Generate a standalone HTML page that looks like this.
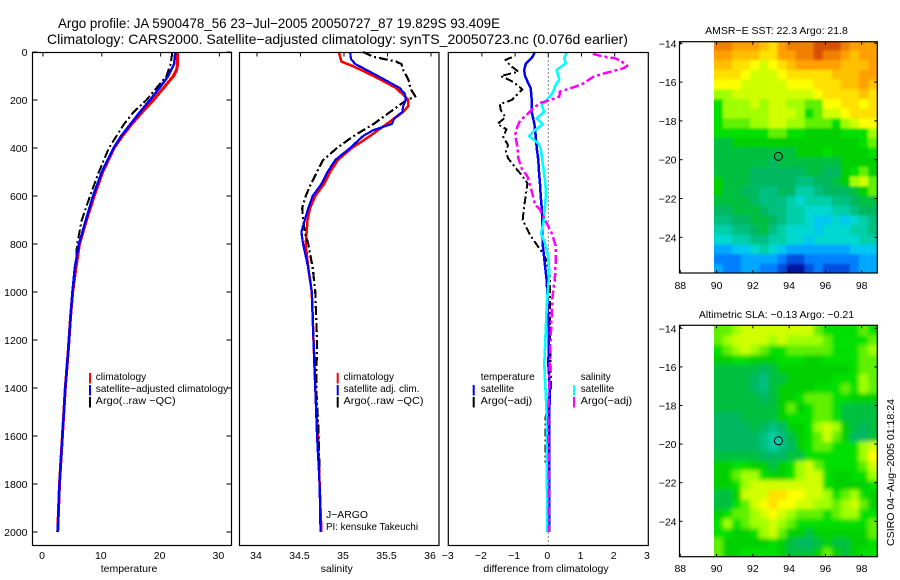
<!DOCTYPE html>
<html>
<head>
<meta charset="utf-8">
<title>Argo profile</title>
<style>
html,body{margin:0;padding:0;background:#fff;}
svg{display:block;}
text{font-family:"Liberation Sans",sans-serif;font-size:10.5px;fill:#000;}
.t{font-size:14px;}
</style>
</head>
<body>
<svg id="chart" width="900" height="580" viewBox="0 0 900 580" xmlns="http://www.w3.org/2000/svg">
<rect x="0" y="0" width="900" height="580" fill="#fff"/>
<text class="t" x="58" y="28" textLength="442" lengthAdjust="spacingAndGlyphs">Argo profile: JA 5900478_56 23−Jul−2005 20050727_87 19.829S 93.409E</text>
<text class="t" x="47" y="44" textLength="581" lengthAdjust="spacingAndGlyphs">Climatology: CARS2000. Satellite−adjusted climatology: synTS_20050723.nc (0.076d earlier)</text>
<text x="0" y="0" transform="translate(894,546) rotate(-90)" textLength="147" lengthAdjust="spacingAndGlyphs" font-size="11">CSIRO 04−Aug−2005 01:18:24</text>
<text x="326" y="518" textLength="42" lengthAdjust="spacingAndGlyphs">J−ARGO</text>
<text x="326" y="530" textLength="92" lengthAdjust="spacingAndGlyphs">PI: kensuke Takeuchi</text>
</svg>
<script>
// ---------- chart data ----------
const depthTicks = [0,200,400,600,800,1000,1200,1400,1600,1800,2000];
const tempTicks = [0,10,20,30];
const salTicks = [34,34.5,35,35.5,36];
const diffTicks = [-3,-2,-1,0,1,2,3];
const lonTicks = [88,90,92,94,96,98];
const latTicks = [-14,-16,-18,-20,-22,-24];

const tempClimDepths = [0,50,75,100,150,200,250,300,350,400,500,600,700,800,900,1000,1100,1242,1400,1600,1800,2000];
const tempClim = [22.9,22.9,22.7,22.2,20.5,18.8,16.9,15.1,13.5,12.1,10.15,8.7,7.4,6.2,5.6,5.05,4.7,4.3,3.8,3.3,2.8,2.5];
const tempSatDepths = [0,50,100,150,200,250,300,350,400,500,600,700,800,900,1000,1100,1242,1400,1600,1800,2000];
const tempSat = [22.5,22.3,21.3,19.8,18.2,16.5,14.9,13.3,12,10,8.5,7.3,6.1,5.4,5,4.7,4.3,3.8,3.3,2.8,2.5];
const tempArgoDepths = [0,50,100,150,200,250,300,350,400,500,600,700,800,900,1000,1100,1242,1400,1600,1800,2000];
const tempArgo = [22,21.7,21,19.3,17.6,15.4,13.8,12.5,11.2,9.5,8,6.6,5.8,5.5,5.05,4.75,4.3,3.75,3.3,2.8,2.45];

const salClimDepths = [0,40,60,100,150,200,225,250,300,350,400,450,500,550,600,650,700,750,800,900,1000,1200,1400,1600,1800,2000];
const salClim = [34.94,34.97,35.11,35.34,35.6,35.74,35.74,35.68,35.49,35.3,35.09,34.93,34.84,34.77,34.67,34.61,34.58,34.57,34.56,34.59,34.63,34.65,34.67,34.7,34.72,34.74];
const salSatDepths = [0,30,50,100,150,175,200,225,250,275,300,325,350,400,450,500,550,600,650,700,750,800,900,1000,1200,1400,1600,1800,2000];
const salSat = [35.07,35.08,35.13,35.39,35.64,35.7,35.71,35.68,35.67,35.58,35.55,35.34,35.22,35.07,34.9,34.81,34.74,34.64,34.59,34.55,34.51,34.53,34.59,34.63,34.65,34.67,34.69,34.72,34.73];
const salArgoDepths = [0,20,40,50,75,100,125,150,185,200,250,300,350,400,450,500,550,600,650,700,750,800,900,1000,1200,1400,1600,1800];
const salArgo = [35.22,35.34,35.6,35.66,35.68,35.72,35.75,35.76,35.82,35.72,35.53,35.34,35.11,34.92,34.76,34.69,34.62,34.56,34.52,34.53,34.55,34.59,34.64,34.67,34.69,34.68,34.71,34.72];

const diffTempSatDepths = [0,25,50,75,100,125,150,200,250,300,350,400,450,500,550,600,650,700,750,800,850,900,950,1000,1200,1300,1400,1500,1700,2000];
const diffTempSat = [-0.4,-0.5,-0.68,-0.73,-0.7,-0.62,-0.53,-0.5,-0.5,-0.42,-0.38,-0.35,-0.3,-0.28,-0.25,-0.23,-0.2,-0.18,-0.18,-0.17,-0.13,-0.09,-0.05,-0.03,0.02,0,0.05,0.03,0.03,0.03];
const diffTempArgoDepths = [22,33,54,82,100,124,156,200,217,242,272,300,322,353,388,415,443,489,513,547,589,644,700,749,783,832,867,936,1006,1200,1400,1530,1710];
const diffTempArgo = [-1.1,-1.29,-1.16,-0.9,-1.43,-1.06,-0.78,-1.1,-1.46,-1.43,-1.29,-1.53,-1.26,-1.36,-1.21,-1.28,-1.21,-0.95,-0.8,-0.63,-0.67,-0.73,-0.77,-0.6,-0.45,-0.2,-0.05,0.05,0.05,0.05,0.08,-0.09,-0.09];
const diffSalSatDepths = [3,26,47,75,114,136,170,192,221,249,276,301,325,350,381,401,464,533,589,644,714,756,797,853,922,1006,1076,1300,1500,2000];
const diffSalSat = [0.55,0.48,0.53,0.25,0.33,0.23,0.13,0,-0.2,-0.13,-0.35,-0.17,-0.4,-0.58,-0.3,-0.23,-0.17,-0.1,-0.07,-0.1,-0.15,-0.22,-0.1,0,0.03,-0.02,-0.05,-0.12,-0.05,-0.03];
const diffSalArgoDepths = [8,19,26,40,57,68,79,90,103,131,147,165,186,200,213,234,262,286,311,346,394,444,486,518,580,636,657,698,754,806,875,944,1014,1200,1500,2000];
const diffSalArgo = [1.34,1.66,2.01,2.21,2.38,2.26,1.96,1.66,1.36,1.06,0.76,0.35,0.33,0.05,-0.25,-0.45,-0.65,-0.85,-0.93,-1,-0.93,-0.9,-0.8,-0.63,-0.5,-0.4,-0.25,-0.1,0.1,0.22,0.22,0.2,0.13,0.07,0,0.02];

const sstLevels = [
[19,19,18,18,18,17,16,18,19,19,19,20,20,20,19,18,18,18],
[18,18,17,17,17,16,16,18,18,19,19,20,19,19,18,17,18,18],
[17,17,16,16,15,14,15,16,17,18,18,18,18,18,17,17,17,18],
[16,16,16,15,14,14,14,15,16,16,16,16,16,17,17,17,18,18],
[15,15,15,14,14,14,14,14,15,15,15,16,16,16,17,17,18,17],
[13,13,14,14,14,14,14,14,14,14,14,15,16,16,16,16,17,16],
[11,13,13,13,14,13,14,14,13,13,12,12,15,15,16,16,15,16],
[11,13,13,13,13,13,14,14,14,13,11,12,14,14,15,16,16,16],
[11,12,12,12,13,13,14,14,13,13,12,12,12,11,13,14,15,15],
[11,11,11,11,11,11,12,12,11,11,10,10,10,10,11,11,11,13],
[9,9,10,10,10,10,10,10,10,10,10,10,10,10,10,10,11,12],
[9,9,9,9,9,9,9,9,9,10,10,10,11,10,10,10,10,11],
[9,9,9,9,9,9,8,9,9,9,9,9,9,9,10,10,10,10],
[9,9,9,9,8,8,8,8,8,8,9,9,8,8,10,11,12,10],
[10,9,9,9,8,8,8,8,8,7,7,8,8,9,10,13,14,12],
[10,9,9,8,8,7,7,8,8,6,6,7,8,8,8,9,10,12],
[9,9,9,9,8,7,7,7,6,5,6,6,6,7,7,8,9,9],
[8,8,9,9,9,8,7,7,6,6,5,5,5,6,6,7,8,8],
[7,7,8,8,9,9,8,7,6,6,5,4,4,5,4,5,6,7],
[6,6,7,7,8,9,7,6,5,5,5,4,5,5,5,6,6,7],
[5,5,6,6,7,7,6,6,5,5,4,5,5,5,5,5,6,6],
[3,3,4,4,5,6,5,4,3,3,3,3,3,3,3,4,4,4],
[2,2,2,3,3,3,3,2,1,1,2,2,2,2,2,2,3,3],
[3,2,2,3,3,2,2,1,0,0,1,2,1,1,1,2,3,3]
];
const slaLevels = [
[12,12,13,14,14,14,14,14,14,14,14,12,11,11,11,11,12,11],
[12,13,14,14,14,14,13,14,13,13,13,13,12,11,11,11,11,12],
[11,12,13,14,13,12,11,11,12,12,12,12,12,11,11,11,12,13],
[10,10,11,11,10,10,10,11,11,11,10,10,11,11,11,11,12,12],
[9,9,9,9,9,8,9,10,10,10,10,10,10,10,10,11,12,12],
[9,9,9,9,8,7,9,9,10,10,10,10,10,11,11,11,13,12],
[9,9,9,9,8,7,9,10,10,10,10,11,11,11,12,11,13,12],
[9,9,9,9,9,8,9,10,10,11,12,12,12,11,11,10,10,10],
[9,9,9,9,9,9,9,10,12,10,11,12,12,11,9,9,9,9],
[8,8,8,9,9,9,9,10,11,11,11,12,12,11,9,9,9,9],
[8,8,8,8,9,8,7,8,10,10,11,13,14,13,10,9,8,9],
[8,8,8,8,8,7,6,7,9,10,11,12,14,12,10,8,8,9],
[8,8,8,8,8,7,6,7,8,10,11,12,12,11,11,11,13,14],
[9,9,9,9,9,8,8,8,9,9,11,11,11,11,11,11,13,15],
[10,10,11,11,10,10,9,10,11,13,14,12,11,11,11,11,12,14],
[10,10,12,13,13,11,10,10,11,13,14,14,11,10,10,11,11,13],
[10,10,11,13,14,14,14,14,14,14,14,14,11,10,10,10,10,11],
[9,9,10,14,14,14,16,16,15,15,14,14,13,11,12,13,11,10],
[9,9,11,12,14,15,16,15,15,14,14,13,13,12,13,14,12,10],
[10,11,12,12,13,14,15,14,13,12,12,12,11,12,13,13,11,11],
[11,13,11,12,13,13,14,13,12,11,11,11,11,11,11,11,11,12],
[11,11,10,10,11,13,14,12,10,10,9,10,10,10,10,10,10,12],
[12,10,10,10,10,10,11,10,9,8,8,9,10,9,9,10,10,11],
[12,10,10,11,11,11,11,10,9,9,9,10,12,10,9,10,11,11]
];
const floatLon = 93.409;
const floatLat = -19.829;
const sstArgoLevel = 8.5;
const slaArgoLevel = 6;

// ---------- helpers ----------
const NS = "http://www.w3.org/2000/svg";
const svg = document.getElementById("chart");
function mk(tag, attrs, name, parent){
  const el = document.createElementNS(NS, tag);
  for (const k in attrs) el.setAttribute(k, attrs[k]);
  
  
  (parent || svg).appendChild(el);
  return el;
}
function label(x, y, s, anchor, name, parent){
  const t = mk("text", {x:x, y:y, "text-anchor":anchor||"start"}, name, parent);
  t.textContent = s;
  return t;
}
function fmt(v){ return String(v).replace("-", "−"); }

const depthY = d => 52 + 0.24 * d;
const tempX = v => 43 + 5.88 * v;
const salX = v => 257 + 87 * (v - 34);
const diffX = v => 548.3 + 33.2 * v;

function series(xf, depths, vals, color, w, dash, name){
  const pts = vals.map((v, i) => xf(v).toFixed(1) + "," + depthY(depths[i]).toFixed(1)).join(" ");
  const a = {points:pts, fill:"none", stroke:color, "stroke-width":w, "stroke-linejoin":"round", "shape-rendering":"crispEdges"};
  if (dash) a["stroke-dasharray"] = dash;
  return mk("polyline", a, name);
}
function frame(x0, x1, y0, y1, name){
  mk("rect", {x:x0, y:y0, width:x1-x0, height:y1-y0, fill:"none", stroke:"#000", "stroke-width":1.2}, name);
}
function tick(x1, y1, x2, y2, name){
  mk("line", {x1:x1, y1:y1, x2:x2, y2:y2, stroke:"#000", "stroke-width":1}, name);
}
function legendRow(sx, tx, y, color, s, len, name){
  if (color) mk("rect", {x:sx-1, y:y-7, width:2, height:10.5, fill:color}, name + "-sample");
  const t = label(tx, y, s, "start", name + "-label");
  t.setAttribute("textLength", len);
  t.setAttribute("lengthAdjust", "spacingAndGlyphs");
}

// ---------- map colour scale ----------
const mapStops = [[0,24,160],[0,80,224],[0,128,255],[0,168,255],[0,200,240],[0,216,208],[0,207,168],[0,192,128],[0,184,96],[0,192,64],[0,208,0],[0,224,0],[96,240,0],[160,255,0],[208,255,0],[255,255,0],[255,224,0],[255,192,0],[255,160,0],[240,128,0],[216,80,0]];
function mapColor(v){
  const c = Math.max(0, Math.min(mapStops.length - 1, v));
  const i = Math.min(mapStops.length - 2, Math.floor(c)), f = c - i;
  const m = [0,1,2].map(k => Math.round(mapStops[i][k] + (mapStops[i+1][k] - mapStops[i][k]) * f));
  return "rgb(" + m.join(",") + ")";
}

// ---------- maps ----------
function drawMap(levels, top, bottom, lat14Y, pxPerLat, blur, title, titleY, labelY, argoLevel, prefix){
  const left = 679.5, right = 877.3, dataLeft = 714;
  const lonX = v => 680.3 + (v - 88) * 18.14;
  const latY = v => lat14Y + (-14 - v) * pxPerLat;
  const clip = mk("clipPath", {id:prefix + "-clip"}, prefix + "-clip-region");
  mk("rect", {x:dataLeft, y:top, width:right-dataLeft, height:bottom-top}, prefix + "-clip-rect", clip);
  const f = mk("filter", {id:prefix + "-smooth", filterUnits:"userSpaceOnUse", x:680, y:top-30, width:230, height:bottom-top+60}, prefix + "-smoothing");
  mk("feGaussianBlur", {stdDeviation:blur}, prefix + "-smoothing-blur", f);
  const outer = mk("g", {"clip-path":"url(#" + prefix + "-clip)"}, prefix + "-clip-group");
  const g = mk("g", {filter:"url(#" + prefix + "-smooth)"}, prefix + "-cells", outer);
  levels.forEach((row, r) => row.forEach((v, c) => {
    let x0 = lonX(89.85 + c * 0.5), y0 = latY(-13.87 - r * 0.5);
    let w = 18.14 * 0.5 + 0.3, h = pxPerLat * 0.5 + 0.3;
    if (c === 0) { x0 -= 15; w += 15; }
    if (c === row.length - 1) w += 15;
    if (r === 0) { y0 -= 15; h += 15; }
    if (r === levels.length - 1) h += 15;
    mk("rect", {x:x0.toFixed(1), y:y0.toFixed(1), width:w.toFixed(1), height:h.toFixed(1), fill:mapColor(v)}, prefix + "-cell", g);
  }));
  frame(left, right, top, bottom, prefix + "-frame");
  lonTicks.forEach(v => {
    tick(lonX(v), top, lonX(v), top + 3, prefix + "-top-tick");
    tick(lonX(v), bottom, lonX(v), bottom - 3, prefix + "-bottom-tick");
    label(lonX(v), labelY, fmt(v), "middle", prefix + "-lon-label");
  });
  latTicks.forEach(v => {
    tick(left, latY(v), left + 3, latY(v), prefix + "-left-tick");
    tick(right, latY(v), right - 3, latY(v), prefix + "-right-tick");
    label(left - 3, latY(v) + 4, fmt(v), "end", prefix + "-lat-label");
  });
  label(776.5, titleY, title, "middle", prefix + "-title");
  mk("circle", {cx:lonX(floatLon).toFixed(1), cy:latY(floatLat).toFixed(1), r:4, fill:mapColor(argoLevel), stroke:"#000", "stroke-width":1}, prefix + "-float-marker");
}
drawMap(sstLevels, 41.7, 273, 43.3, 19.4, 1.3, "AMSR−E SST: 22.3 Argo: 21.8", 34, 289, sstArgoLevel, "sst-map");
drawMap(slaLevels, 325.3, 556.7, 328.3, 19.3, 2.2, "Altimetric SLA: −0.13 Argo: −0.21", 318, 572, slaArgoLevel, "sla-map");

// ---------- profile panels ----------
const top_ = 52.5, bot_ = 545.5;
// panel 1
series(tempX, tempClimDepths, tempClim, "#ff0000", 3, null, "temperature-climatology-line");
series(tempX, tempArgoDepths, tempArgo, "#000", 2, "9 3 2 3", "temperature-argo-line");
series(tempX, tempSatDepths, tempSat, "#0000ff", 2.5, null, "temperature-satellite-line");
frame(32.5, 231.5, top_, bot_, "temperature-panel-frame");
depthTicks.forEach(d => {
  tick(32.5, depthY(d), 37.5, depthY(d), "depth-left-tick");
  tick(231.5, depthY(d), 226.5, depthY(d), "depth-right-tick");
  label(27.5, depthY(d) + 4, String(d), "end", "depth-tick-label");
});
tempTicks.forEach(v => {
  tick(tempX(v), top_, tempX(v), top_ + 4, "temperature-tick");
  label(tempX(v) - 1, 559, String(v), "middle", "temperature-tick-label");
});
label(129, 572, "temperature", "middle", "temperature-axis-title");
legendRow(90, 95.7, 380, "#ff0000", "climatology", 50.5, "temperature-legend-climatology");
legendRow(90, 95.7, 392, "#0000ff", "satellite−adjusted climatology", 132.5, "temperature-legend-satellite");
legendRow(90, 95.7, 404, "#000", "Argo(..raw −QC)", 80, "temperature-legend-argo");

// panel 2
series(salX, salClimDepths, salClim, "#ff0000", 2.5, null, "salinity-climatology-line");
series(salX, salArgoDepths, salArgo, "#000", 2.2, "9 3 2 3", "salinity-argo-line");
series(salX, salSatDepths, salSat, "#0000ff", 2.2, null, "salinity-satellite-line");
frame(239.5, 439, top_, bot_, "salinity-panel-frame");
salTicks.forEach(v => {
  tick(salX(v), top_, salX(v), top_ + 4, "salinity-tick");
  label(salX(v) - 1, 559, String(v), "middle", "salinity-tick-label");
});
label(336.7, 572, "salinity", "middle", "salinity-axis-title");
legendRow(337.7, 343.5, 380, "#ff0000", "climatology", 50.5, "salinity-legend-climatology");
legendRow(337.7, 343.5, 392, "#0000ff", "satellite adj. clim.", 76, "salinity-legend-satellite");
legendRow(337.7, 343.5, 404, "#000", "Argo(..raw −QC)", 80, "salinity-legend-argo");

// panel 3
mk("line", {x1:diffX(0), y1:top_, x2:diffX(0), y2:bot_, stroke:"#000", "stroke-width":1, "stroke-dasharray":"1 3"}, "zero-reference-line");
series(diffX, diffTempArgoDepths, diffTempArgo, "#000", 2, "8 3 2 3", "difference-temperature-argo-line");
series(diffX, diffTempSatDepths, diffTempSat, "#0000ff", 2.5, null, "difference-temperature-satellite-line");
series(diffX, diffSalSatDepths, diffSalSat, "#00ffff", 2.6, null, "difference-salinity-satellite-line");
series(diffX, diffSalArgoDepths, diffSalArgo, "#ff00ff", 2.5, "9 3 3 3", "difference-salinity-argo-line");
frame(448.3, 648.3, top_, bot_, "difference-panel-frame");
diffTicks.forEach(v => {
  if (v > -3 && v < 3) tick(diffX(v), top_, diffX(v), top_ + 4, "difference-tick");
  label(diffX(v) - 1, 559, fmt(v), "middle", "difference-tick-label");
});
label(546, 572, "difference from climatology", "middle", "difference-axis-title");
legendRow(473.7, 480.7, 380, null, "temperature", 54, "difference-legend-temperature");
legendRow(473.7, 480.7, 392, "#0000ff", "satellite", 33.5, "difference-legend-temperature-satellite");
legendRow(473.7, 480.7, 404, "#000", "Argo(−adj)", 51.5, "difference-legend-temperature-argo");
legendRow(574, 580.7, 380, null, "salinity", 30, "difference-legend-salinity");
legendRow(574, 580.7, 392, "#00ffff", "satellite", 33.5, "difference-legend-salinity-satellite");
legendRow(574, 580.7, 404, "#ff00ff", "Argo(−adj)", 51.5, "difference-legend-salinity-argo");
</script>
</body>
</html>
